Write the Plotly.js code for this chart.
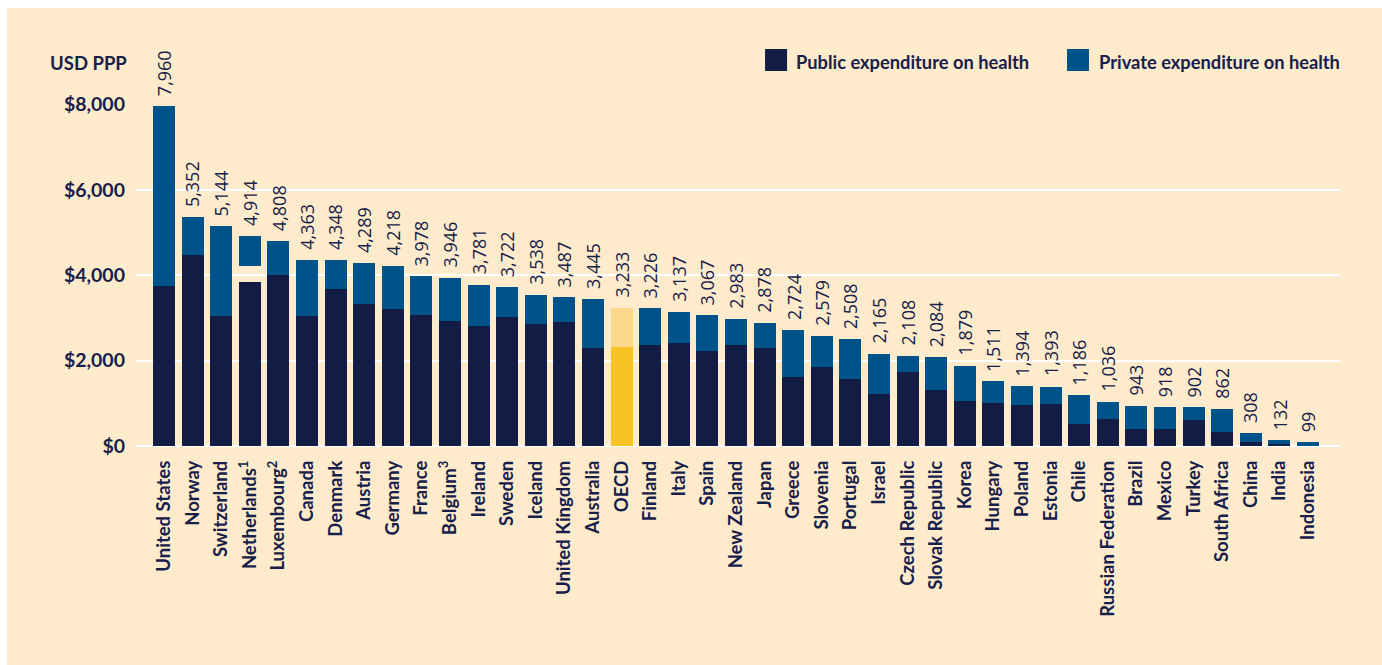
<!DOCTYPE html>
<html>
<head>
<meta charset="utf-8">
<script src="https://cdn.plot.ly/plotly-3.0.1.min.js"></script>
<style>
  html, body { margin: 0; padding: 0; background: #ffffff; }
  #chart { position: absolute; left: 7px; top: 8px; width: 1375px; height: 657px; }
</style>
</head>
<body>
<div id="chart"></div>
<script>
// ---- Data (USD PPP per capita) ----
const countries = [
  "United States", "Norway", "Switzerland", "Netherlands<sup>1</sup>", "Luxembourg<sup>2</sup>",
  "Canada", "Denmark", "Austria", "Germany", "France", "Belgium<sup>3</sup>", "Ireland",
  "Sweden", "Iceland", "United Kingdom", "Australia", "OECD", "Finland", "Italy", "Spain",
  "New Zealand", "Japan", "Greece", "Slovenia", "Portugal", "Israel", "Czech Republic",
  "Slovak Republic", "Korea", "Hungary", "Poland", "Estonia", "Chile", "Russian Federation",
  "Brazil", "Mexico", "Turkey", "South Africa", "China", "India", "Indonesia"
];
const totalExpenditure = [
  7960, 5352, 5144, 4914, 4808, 4363, 4348, 4289, 4218, 3978, 3946, 3781,
  3722, 3538, 3487, 3445, 3233, 3226, 3137, 3067, 2983, 2878, 2724, 2579,
  2508, 2165, 2108, 2084, 1879, 1511, 1394, 1393, 1186, 1036, 943, 918,
  902, 862, 308, 132, 99
];
const publicExpenditure = [
  3750, 4470, 3040, 3840, 4000, 3040, 3670, 3320, 3205, 3065, 2925, 2805,
  3020, 2855, 2900, 2290, 2315, 2365, 2410, 2225, 2365, 2290, 1615, 1850,
  1565, 1215, 1730, 1310, 1055, 1005, 960, 980, 515, 630, 400, 400,
  610, 330, 95, 40, 0
];
// part of the total not split into public/private (Netherlands)
const unallocated = [
  0, 0, 0, 378, 0, 0, 0, 0, 0, 0, 0, 0,
  0, 0, 0, 0, 0, 0, 0, 0, 0, 0, 0, 0,
  0, 0, 0, 0, 0, 0, 0, 0, 0, 0, 0, 0,
  0, 0, 0, 0, 0
];
const privateExpenditure = totalExpenditure.map((t, i) => t - publicExpenditure[i] - unallocated[i]);
const yTicks = [0, 2000, 4000, 6000, 8000];
const yTickText = ["$0", "$2,000", "$4,000", "$6,000", "$8,000"];
const highlight = "OECD";

// ---- Styles ----
const NAVY = "#121C45";
const BLUE = "#00528A";
const OECD_PUB = "#F7C325";
const OECD_PRIV = "#FBD98A";
const CREAM = "#FEEBCB";
const TEXT = "#16204A";

const xIdx = countries.map((_, i) => i);
const tickText = countries.map(c => c === highlight ? "<b>" + c + "</b>" : c);
const pubColors = countries.map(c => c === highlight ? OECD_PUB : NAVY);
const privColors = countries.map(c => c === highlight ? OECD_PRIV : BLUE);

const traces = [
  { type: "bar", name: "Public expenditure on health", x: xIdx, y: publicExpenditure,
    marker: { color: pubColors }, showlegend: false, hoverinfo: "y+name" },
  { type: "bar", name: "Not allocated", x: xIdx, y: unallocated,
    marker: { color: "rgba(0,0,0,0)" }, showlegend: false, hoverinfo: "skip" },
  { type: "bar", name: "Private expenditure on health", x: xIdx, y: privateExpenditure,
    marker: { color: privColors }, showlegend: false, hoverinfo: "y+name" }
];

const annotations = totalExpenditure.map((t, i) => ({
  x: i, y: t, xref: "x", yref: "y",
  text: t.toLocaleString("en-US"),
  textangle: -90, showarrow: false,
  xanchor: "center", yanchor: "bottom", yshift: 8,
  font: { family: "Open Sans, sans-serif", size: 18, color: TEXT, weight: 500 }
}));

// axis unit title
annotations.push({
  xref: "paper", yref: "paper", x: -0.006, y: 1.121,
  xanchor: "right", yanchor: "middle", showarrow: false,
  text: "USD PPP",
  font: { family: "Lato, sans-serif", size: 18.5, color: TEXT, weight: "bold" }
});
// legend labels
annotations.push({
  xref: "paper", yref: "paper", x: 0.5465, y: 1.122,
  xanchor: "left", yanchor: "middle", showarrow: false,
  text: "Public expenditure on health",
  font: { family: "Lato, sans-serif", size: 18.3, color: TEXT, weight: "bold" }
});
annotations.push({
  xref: "paper", yref: "paper", x: 0.7985, y: 1.122,
  xanchor: "left", yanchor: "middle", showarrow: false,
  text: "Private expenditure on health",
  font: { family: "Lato, sans-serif", size: 18.3, color: TEXT, weight: "bold" }
});

const shapes = [
  { type: "rect", xref: "paper", yref: "paper", xsizemode: "pixel", ysizemode: "pixel",
    xanchor: 0.5316, yanchor: 1.1287, x0: -11, x1: 11, y0: -11, y1: 11,
    fillcolor: NAVY, line: { width: 0 } },
  { type: "rect", xref: "paper", yref: "paper", xsizemode: "pixel", ysizemode: "pixel",
    xanchor: 0.7824, yanchor: 1.1287, x0: -11, x1: 11, y0: -11, y1: 11,
    fillcolor: BLUE, line: { width: 0 } }
];

const layout = {
  width: 1375, height: 657,
  margin: { l: 129, r: 42, t: 96, b: 219 },
  paper_bgcolor: CREAM, plot_bgcolor: CREAM,
  barmode: "stack", bargap: 0.23,
  showlegend: false,
  xaxis: {
    type: "linear", range: [-0.98, 41.12],
    tickmode: "array", tickvals: xIdx, ticktext: tickText,
    tickangle: -90, ticks: "", showgrid: false, zeroline: false, showline: false,
    ticklabelstandoff: 10,
    tickfont: { family: "Lato, sans-serif", size: 18.5, color: TEXT, weight: "bold" }
  },
  yaxis: {
    range: [0, 8010], tickmode: "array", tickvals: yTicks, ticktext: yTickText,
    showgrid: true, gridcolor: "#FFFFFF", gridwidth: 2,
    zeroline: true, zerolinecolor: "#FFFFFF", zerolinewidth: 2,
    showline: false, ticks: "", ticklabelstandoff: 10,
    tickfont: { family: "Lato, sans-serif", size: 19.5, color: TEXT, weight: "bold" }
  },
  annotations: annotations,
  shapes: shapes
};

Plotly.newPlot("chart", traces, layout, { displayModeBar: false, staticPlot: true });
</script>
</body>
</html>
